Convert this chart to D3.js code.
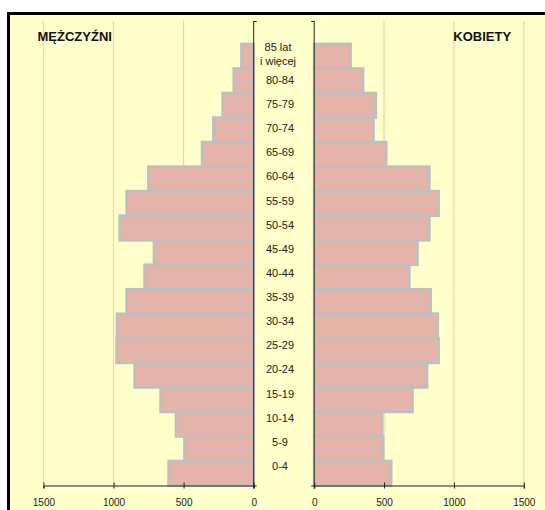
<!DOCTYPE html>
<html>
<head>
<meta charset="utf-8">
<script src="https://cdn.jsdelivr.net/npm/d3@7"></script>
<style>
  html, body { margin: 0; padding: 0; background: #ffffff; overflow: hidden; }
  svg { display: block; font-family: "Liberation Sans", Arial, sans-serif; }
</style>
</head>
<body>
<svg id="chart" width="545" height="510"></svg>
<script>
// ---- data ----
const ageGroups = ["0-4","5-9","10-14","15-19","20-24","25-29","30-34","35-39","40-44",
                   "45-49","50-54","55-59","60-64","65-69","70-74","75-79","80-84","85+"];
const ageLabels = ["0-4","5-9","10-14","15-19","20-24","25-29","30-34","35-39","40-44",
                   "45-49","50-54","55-59","60-64","65-69","70-74","75-79","80-84","85 lat|i więcej"];
const men   = [607, 492, 554, 664, 849, 978, 975, 906, 778, 711, 956, 906, 751, 368, 287, 221, 142, 87];
const women = [551, 493, 486, 703, 808, 890, 884, 833, 681, 739, 824, 890, 824, 515, 424, 441, 350, 260];
const xTicks = [0, 500, 1000, 1500];
const panelTitles = ["MĘŻCZYŹNI", "KOBIETY"];

// ---- layout ----
const svg = d3.select("#chart");
const W = 545, H = 510;
const plotTop = 21, plotBottom = 485.5, barsTop = 44;
const leftZero = 253.7, leftEnd = 43.4, rightZero = 314.2, rightEnd = 523.8;

const bg = "#ffffcc", barFill = "#e4b4aa", barStroke = "#bfbfbf", gridColor = "#f0d0b8", axisColor = "#222";

// background + frame (top and left edges visible)
svg.append("rect").attr("x", 8.5).attr("y", 13.5).attr("width", W).attr("height", H)
  .attr("fill", bg);
svg.append("path").attr("d", `M8.5,${H}V13.5H${W}`)
  .attr("fill", "none").attr("stroke", "#000").attr("stroke-width", 3);

const y = d3.scaleBand().domain(ageGroups).range([plotBottom, barsTop]).padding(0);
const xL = d3.scaleLinear().domain([0, 1500]).range([leftZero, leftEnd]);
const xR = d3.scaleLinear().domain([0, 1500]).range([rightZero, rightEnd]);
const labelY = d3.scaleLinear().domain([0, 16]).range([466, 80]);

// gridlines
[xL, xR].forEach(sc => {
  svg.append("g").selectAll("line").data(xTicks.filter(t => t > 0)).join("line")
    .attr("x1", d => sc(d)).attr("x2", d => sc(d))
    .attr("y1", plotTop).attr("y2", plotBottom)
    .attr("stroke", gridColor).attr("stroke-width", 1.2);
});

// bars
const rows = ageGroups.map((a, i) => ({ age: a, m: men[i], w: women[i] }));
svg.append("g").selectAll("rect").data(rows).join("rect")
  .attr("x", d => xL(d.m)).attr("width", d => xL(0) - xL(d.m))
  .attr("y", d => y(d.age)).attr("height", y.bandwidth())
  .attr("fill", barFill).attr("stroke", barStroke).attr("stroke-width", 2.7);
svg.append("g").selectAll("rect").data(rows).join("rect")
  .attr("x", xR(0)).attr("width", d => xR(d.w) - xR(0))
  .attr("y", d => y(d.age)).attr("height", y.bandwidth())
  .attr("fill", barFill).attr("stroke", barStroke).attr("stroke-width", 2.7);

// vertical (category) axes
const yAxisScale = d3.scaleLinear().domain([0, 1]).range([plotBottom, plotTop]);
const gyl = svg.append("g").attr("transform", `translate(${leftZero},0)`)
  .call(d3.axisRight(yAxisScale).tickValues([0, 1]).tickSize(3).tickFormat(""));
const gyr = svg.append("g").attr("transform", `translate(${rightZero},0)`)
  .call(d3.axisLeft(yAxisScale).tickValues([0, 1]).tickSize(3).tickFormat(""));
[gyl, gyr].forEach(g => {
  g.selectAll("path, line").attr("stroke", axisColor).attr("stroke-width", 1);
  g.select(".domain").attr("d", `M0,${plotTop}V${plotBottom + 3}`);
});

// horizontal value axes
[xL, xR].forEach(sc => {
  const g = svg.append("g").attr("transform", `translate(0,${plotBottom})`)
    .call(d3.axisBottom(sc).tickValues(xTicks).tickFormat(d3.format("d"))
      .tickSizeOuter(0).tickSize(3).tickPadding(10));
  g.select(".domain").attr("stroke", axisColor);
  g.selectAll(".tick line").attr("stroke", axisColor).attr("y1", -3).attr("y2", 3);
  g.selectAll(".tick text").attr("font-size", 10).attr("fill", "#222")
    .attr("font-family", "'Liberation Sans', Arial, sans-serif");
});

// category labels
const lab = svg.append("g").attr("font-size", 11).attr("fill", "#222").attr("text-anchor", "middle");
ageLabels.forEach((t, i) => {
  if (t.includes("|")) {
    const parts = t.split("|");
    lab.append("text").attr("x", 278).attr("y", 51).text(parts[0]);
    lab.append("text").attr("x", 278).attr("y", 65).text(parts[1]);
  } else {
    lab.append("text").attr("x", 280).attr("y", labelY(i)).attr("dy", "0.36em").text(t);
  }
});

// panel titles
svg.append("text").attr("x", 37.5).attr("y", 40.5).attr("font-size", 13).attr("font-weight", "bold")
  .attr("fill", "#111").text(panelTitles[0]);
svg.append("text").attr("x", 453.3).attr("y", 40.5).attr("font-size", 13).attr("font-weight", "bold")
  .attr("fill", "#111").text(panelTitles[1]);
</script>
</body>
</html>
